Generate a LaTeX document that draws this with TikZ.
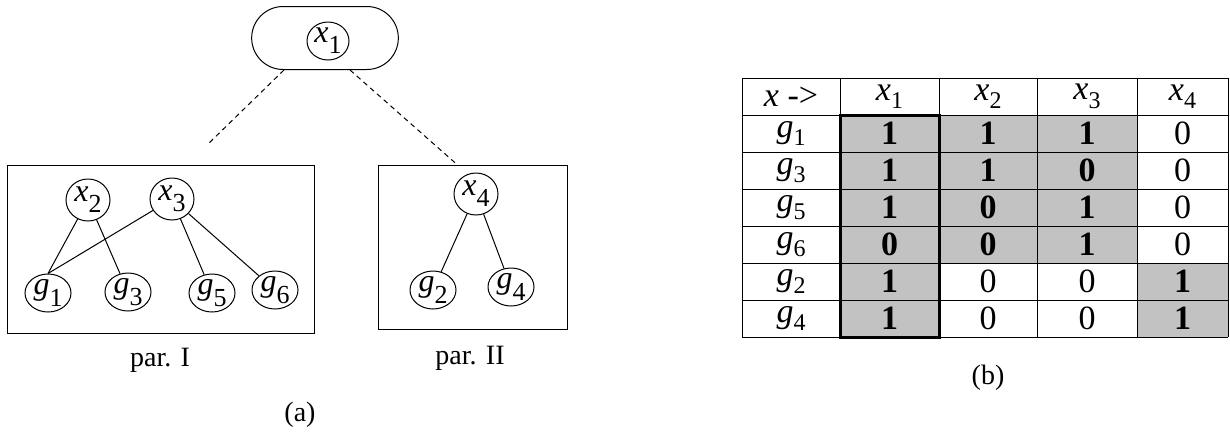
\documentclass[tikz,border=0pt]{standalone}
\usepackage{fontspec}
\setmainfont{Liberation Serif}
\usetikzlibrary{shapes.geometric,shapes.misc}

\newcommand{\nv}[2]{\textit{#1}\raisebox{-0.35em}{\fontsize{13}{13}\selectfont #2}} % etichetta nel nodo
\newcommand{\tv}[2]{\textit{#1}\raisebox{-0.25em}{\fontsize{12}{12}\selectfont #2}} % etichetta in tabella

\begin{document}
\begin{tikzpicture}[
        x=0.5pt, y=-0.5pt, % coordinate in pixel, asse y verso il basso
        line width=0.5pt,
        var/.style={draw, ellipse, inner sep=0pt, minimum width=22pt, minimum height=21pt, font=\fontsize{16}{16}\selectfont},
        gen/.style={draw, ellipse, inner sep=0pt, minimum width=23pt, minimum height=19pt, font=\fontsize{16}{16}\selectfont},
        part/.style={draw, rectangle, inner sep=0pt},
        caption/.style={font=\fontsize{14}{14}\selectfont},
        cell/.style={font=\fontsize{17}{17}\selectfont},
        cellfill/.style={fill=black!24},
        link/.style={dash pattern=on 2.5pt off 2pt}
    ]
    \useasboundingbox (0,0) rectangle (1230,434);

    % (a) albero delle partizioni
    \node[draw, rounded rectangle, minimum width=80pt, minimum height=31.5pt] (top) at (325,38) {};
    \node[var, minimum width=21pt, minimum height=19pt] (x1) at (328,41) {\nv{x}{1}};
    \node[part, minimum width=153.5pt, minimum height=84pt] (parI) at (160.5,249) {};
    \node[part, minimum width=94.5pt, minimum height=82pt] (parII) at (472.5,247) {};

    \node[var] (x2) at (88,200) {\nv{x}{2}};
    \node[var] (x3) at (172,199) {\nv{x}{3}};
    \node[var] (x4) at (476,194) {\nv{x}{4}};
    \node[gen] (g1) at (48,293) {\nv{g}{1}};
    \node[gen] (g3) at (128,292) {\nv{g}{3}};
    \node[gen] (g5) at (212,293) {\nv{g}{5}};
    \node[gen] (g6) at (275,290) {\nv{g}{6}};
    \node[gen] (g2) at (433,290) {\nv{g}{2}};
    \node[gen] (g4) at (511,287) {\nv{g}{4}};

    \draw (x2) -- (g1.north);
    \draw (x2) -- (g3);
    \draw (x3) -- (g1.north);
    \draw (x3) -- (g5);
    \draw (x3) -- (g6);
    \draw (x4) -- (g2);
    \draw (x4) -- (g4);

    \coordinate (lend) at (207,145);
    \draw[link] ([xshift=-20.5pt]top.south) -- (lend);
    \draw[link] ([xshift=12.5pt]top.south) -- ([xshift=-7.75pt]parII.north);

    \node[caption] (labI) at (160,360) {par. I};
    \node[caption] (labII) at (470,358) {par. II};
    \node[caption] (capa) at (300,415) {(a)};

    % (b) tabella
    \fill[cellfill] (840,115) rectangle (939,337);
    \fill[cellfill] (939,115) rectangle (1137,263);
    \fill[cellfill] (1137,263) rectangle (1228,337);
    \foreach \yl in {78,115,...,337} \draw (742,\yl) -- (1228,\yl);
    \foreach \xl in {742,840,939,1037,1137,1228} \draw (\xl,78) -- (\xl,337);
    \draw[line width=1.5pt] (840,115) rectangle (939,337);

    \node[cell] (h0) at (791,96.5) {\textit{x} ->};
    \foreach \xc [count=\j] in {889.5,988,1087,1182.5}
        \node[cell] (h\j) at (\xc,96.5) {\tv{x}{\j}};

    \foreach \gi/\va/\vb/\vc/\vd [count=\r] in {1/1/1/1/0, 3/1/1/0/0, 5/1/0/1/0, 6/0/0/1/0, 2/1/0/0/1, 4/1/0/0/1} {
        \pgfmathsetmacro\yy{78+37*\r+18.5}
        \node[cell] (r\r) at (791,\yy) {\tv{g}{\gi}};
        \node[cell] (r\r a) at (889.5,\yy) {\textbf{\va}};
        \node[cell] (r\r b) at (988,\yy) {\ifnum\r<5 \textbf{\vb}\else\vb\fi};
        \node[cell] (r\r c) at (1087,\yy) {\ifnum\r<5 \textbf{\vc}\else\vc\fi};
        \node[cell] (r\r d) at (1182.5,\yy) {\ifnum\r>4 \textbf{\vd}\else\vd\fi};
    }

    \node[caption] (capb) at (988,378) {(b)};
\end{tikzpicture}
\end{document}
